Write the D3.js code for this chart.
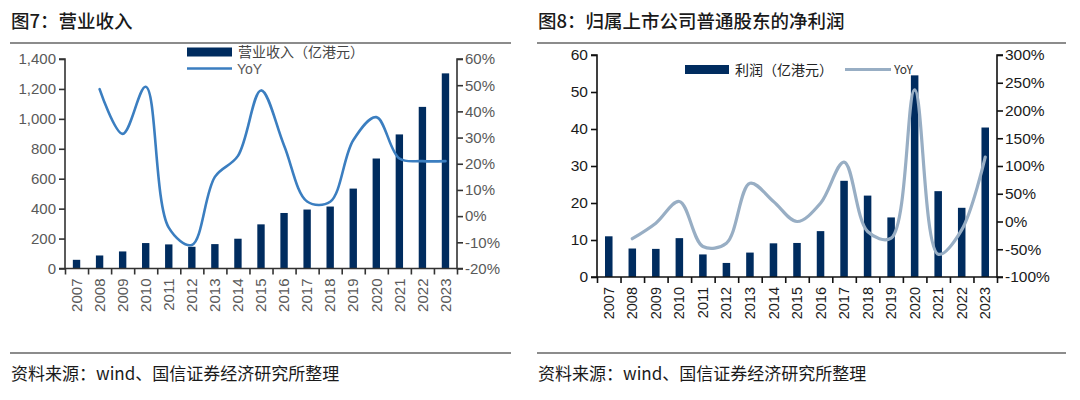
<!DOCTYPE html>
<html>
<head>
<meta charset="utf-8">
<script src="https://cdn.jsdelivr.net/npm/d3@7"></script>
<style>
    body { margin: 0; background: #fff; }
    svg { display: block; }
    .cjk { font-family: "Noto Sans CJK SC", sans-serif; }
    .num { font-family: "Liberation Sans", Arial, sans-serif; }
</style>
</head>
<body>
<svg id="chart" width="1080" height="400"></svg>
<script>
// years on both charts
var years = ['2007', '2008', '2009', '2010', '2011', '2012', '2013', '2014', '2015',
    '2016', '2017', '2018', '2019', '2020', '2021', '2022', '2023'];

// fig 7: revenue (亿港元) and yoy (%), yoy starts in 2008
var revenue = [58, 87, 114, 170, 161, 145, 163, 199, 295, 371, 394, 414, 534, 735, 896, 1080, 1304];
var revenueYoY = [null, 48.5, 31.4, 49.4, -4.4, -11, 15, 23, 48, 27, 5.6, 5.5, 29, 37.8, 22, 21, 21];
var revenueTicks = [0, 200, 400, 600, 800, 1000, 1200, 1400];
var revenuePctTicks = [-20, -10, 0, 10, 20, 30, 40, 50, 60];

// fig 8: net profit (亿港元) and yoy (%)
var profit = [11.0, 7.7, 7.6, 10.5, 6.1, 3.8, 6.6, 9.1, 9.2, 12.4, 26.0, 22.0, 16.1, 54.5, 23.2, 18.7, 40.4];
var profitYoY = [null, -31, -3, 36, -45, -39, 69, 36, 0, 33, 107, -18, -30, 237, -59, -15, 116];
var profitTicks = [0, 10, 20, 30, 40, 50, 60];
var profitPctTicks = [-100, -50, 0, 50, 100, 150, 200, 250, 300];

var svg = d3.select('#chart');
var barColor = '#002c5f';

function panelFrame(x0, x1, title) {
    svg.append('text').attr('class', 'cjk')
        .attr('x', x0 + 1).attr('y', 28)
        .attr('font-size', 18.5).attr('font-weight', 500).attr('fill', '#1a1a1a')
        .text(title);
    svg.append('line').attr('x1', x0).attr('x2', x1).attr('y1', 43).attr('y2', 43)
        .attr('stroke', '#666').attr('stroke-width', 1.5);
    svg.append('line').attr('x1', x0).attr('x2', x1).attr('y1', 353).attr('y2', 353)
        .attr('stroke', '#666').attr('stroke-width', 1.5);
    svg.append('text').attr('class', 'cjk')
        .attr('x', x0 + 1).attr('y', 380)
        .attr('font-size', 17).attr('fill', '#1a1a1a')
        .text('资料来源：wind、国信证券经济研究所整理');
}

function drawChart(opt) {
    var x = d3.scaleBand().domain(years).range([opt.left, opt.right]).paddingInner(0.68).paddingOuter(0.34);
    var y = d3.scaleLinear().domain(d3.extent(opt.ticks)).range([opt.bottom, opt.top]);
    var y2 = d3.scaleLinear().domain(d3.extent(opt.pctTicks)).range([opt.bottom, opt.top]);
    var g = svg.append('g');

    // bars
    g.selectAll('rect.bar')
        .data(opt.bars)
        .enter()
        .append('rect')
        .attr('class', 'bar')
        .attr('x', function (d, i) { return x(years[i]); })
        .attr('width', x.bandwidth())
        .attr('y', function (d) { return y(d); })
        .attr('height', function (d) { return y(0) - y(d); })
        .attr('fill', barColor);

    // yoy line
    var pts = opt.yoy.map(function (d, i) { return [x(years[i]) + x.bandwidth() / 2, d]; })
        .filter(function (p) { return p[1] !== null; });
    var line = d3.line()
        .x(function (p) { return p[0]; })
        .y(function (p) { return y2(p[1]); })
        .curve(d3.curveCatmullRom.alpha(0.5));
    g.append('path').attr('d', line(pts))
        .attr('fill', 'none').attr('stroke', opt.lineColor).attr('stroke-width', opt.lineWidth)
        .attr('stroke-linecap', 'round');

    // left axis
    var ax = g.append('g').attr('transform', 'translate(' + opt.left + ',0)')
        .call(d3.axisLeft(y).tickValues(opt.ticks).tickSize(6).tickPadding(3).tickFormat(d3.format(',')));
    // right axis
    var ax2 = g.append('g').attr('transform', 'translate(' + opt.right + ',0)')
        .call(d3.axisRight(y2).tickValues(opt.pctTicks).tickSize(6).tickPadding(2)
            .tickFormat(function (d) { return d + '%'; }));
    // bottom axis: tick marks between bands
    var edges = d3.scaleLinear().domain([0, years.length]).range([opt.left, opt.right]);
    var axb = g.append('g').attr('transform', 'translate(0,' + opt.bottom + ')')
        .call(d3.axisBottom(edges).ticks(years.length).tickSize(6).tickFormat(''));
    // rotated year labels
    g.selectAll('text.year')
        .data(years)
        .enter()
        .append('text')
        .attr('class', 'year num')
        .attr('transform', function (d) {
            return 'translate(' + (x(d) + x.bandwidth() / 2) + ',' + (opt.bottom + opt.labelGap) + ') rotate(-90)';
        })
        .attr('dy', '0.35em')
        .attr('text-anchor', 'end')
        .attr('font-size', opt.yearSize)
        .attr('fill', opt.textColor)
        .text(function (d) { return d; });

    [ax, ax2, axb].forEach(function (a) {
        a.selectAll('path.domain').attr('stroke', opt.axisColor).attr('stroke-width', 1.6);
        a.selectAll('line').attr('stroke', opt.axisColor).attr('stroke-width', 1.6);
        a.selectAll('text').attr('class', 'num').attr('font-size', opt.tickSize).attr('fill', opt.textColor)
            .attr('font-family', null);
    });
    ax.select('path.domain').attr('d', 'M-6,' + opt.top + 'H0V' + opt.bottom + 'H-6');
    ax2.select('path.domain').attr('d', 'M6,' + opt.top + 'H0V' + opt.bottom + 'H6');
    axb.select('path.domain').attr('d', 'M' + opt.left + ',0H' + opt.right);
    return g;
}

panelFrame(10, 511, '图7：营业收入');
panelFrame(537, 1066, '图8：归属上市公司普通股东的净利润');

drawChart({
    left: 65, right: 457, top: 59, bottom: 268.5,
    ticks: revenueTicks, pctTicks: revenuePctTicks,
    bars: revenue, yoy: revenueYoY,
    lineColor: '#3b7ec0', lineWidth: 2.6,
    textColor: '#595959', axisColor: '#333', tickSize: 15, yearSize: 15, labelGap: 10
});

drawChart({
    left: 597, right: 997, top: 55, bottom: 277,
    ticks: profitTicks, pctTicks: profitPctTicks,
    bars: profit, yoy: profitYoY,
    lineColor: '#98aec4', lineWidth: 3.2,
    textColor: '#1a1a1a', axisColor: '#111', tickSize: 15.5, yearSize: 14.5, labelGap: 10
});

// legends
svg.append('rect').attr('x', 187).attr('y', 47.5).attr('width', 45).attr('height', 9).attr('fill', barColor);
svg.append('text').attr('class', 'cjk').attr('x', 238).attr('y', 57)
    .attr('font-size', 14).attr('fill', '#444').text('营业收入（亿港元）');
svg.append('line').attr('x1', 187).attr('x2', 232).attr('y1', 68.5).attr('y2', 68.5)
    .attr('stroke', '#3b7ec0').attr('stroke-width', 2.6);
svg.append('text').attr('class', 'num').attr('x', 237).attr('y', 73.5)
    .attr('font-size', 14).attr('fill', '#595959').text('YoY');

svg.append('rect').attr('x', 685).attr('y', 65).attr('width', 44).attr('height', 9).attr('fill', barColor);
svg.append('text').attr('class', 'cjk').attr('x', 735).attr('y', 74.5)
    .attr('font-size', 14).attr('fill', '#222').text('利润（亿港元）');
svg.append('line').attr('x1', 845).attr('x2', 891).attr('y1', 69.5).attr('y2', 69.5)
    .attr('stroke', '#98aec4').attr('stroke-width', 3.2);
svg.append('text').attr('class', 'cjk').attr('x', 894).attr('y', 74)
    .attr('font-size', 12).attr('fill', '#333').text('YoY');
</script>
</body>
</html>
